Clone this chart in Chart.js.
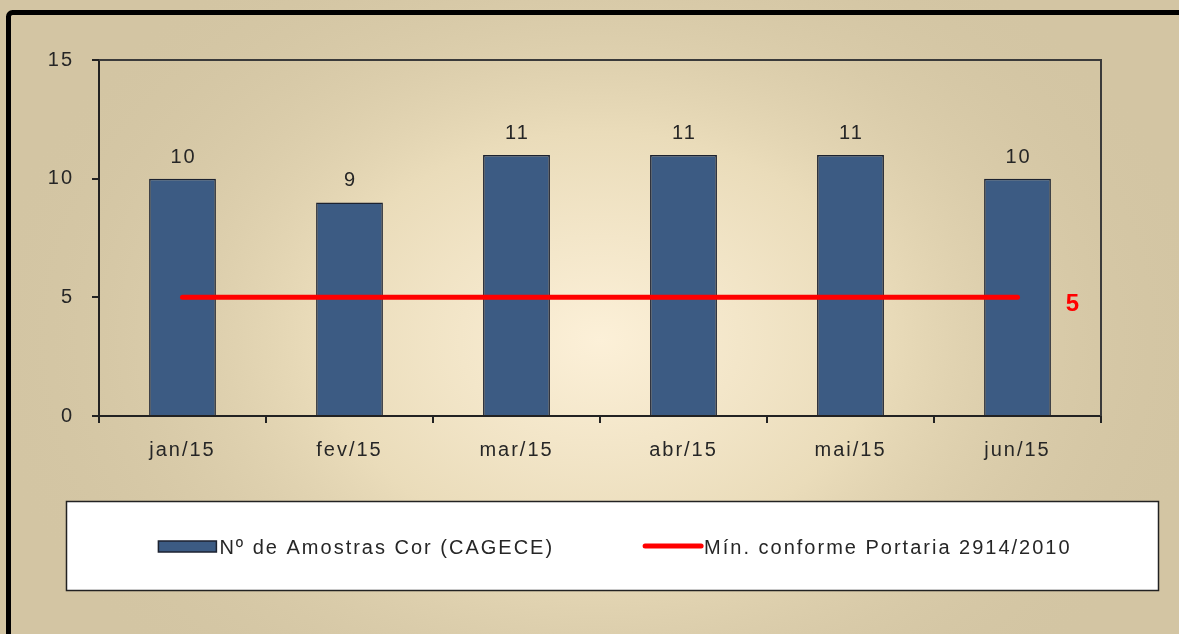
<!DOCTYPE html>
<html>
<head>
<meta charset="utf-8">
<script src="https://cdn.jsdelivr.net/npm/chart.js@4/dist/chart.umd.min.js"></script>
<style>
  html, body { margin: 0; padding: 0; background: #d3c5a3; }
  #wrap { width: 1179px; height: 634px; position: relative; }
</style>
</head>
<body>
<div id="wrap"><canvas id="chart" width="1179" height="634"></canvas></div>
<script>
const months = ['jan/15', 'fev/15', 'mar/15', 'abr/15', 'mai/15', 'jun/15'];
const amostras = [10, 9, 11, 11, 11, 10];
const minimo = [5, 5, 5, 5, 5, 5];
const yTicks = [0, 5, 10, 15];
const serieNames = ['Nº de Amostras Cor (CAGECE)', 'Mín. conforme Portaria 2914/2010'];

const BAR = '#3c5b83';
const RED = '#ff0000';
const TXT = '#262626';
const FONT = '"Liberation Sans", Arial, sans-serif';

// background, black frame, plot border, value labels and legend box
const decor = {
  id: 'decor',
  beforeDraw(chart) {
    const ctx = chart.ctx;
    ctx.letterSpacing = '2px';
    ctx.save();
    ctx.letterSpacing = '0px';
    ctx.fillStyle = '#d3c5a3';
    ctx.fillRect(0, 0, chart.width, chart.height);
    ctx.translate(600, 340);
    ctx.scale(1.35, 1);
    const g = ctx.createRadialGradient(0, 0, 0, 0, 0, 460);
    g.addColorStop(0, '#fcf0d8');
    g.addColorStop(0.45, '#eadcba');
    g.addColorStop(1, 'rgba(211,197,163,0)');
    ctx.fillStyle = g;
    ctx.fillRect(-600, -400, 1200, 800);
    ctx.restore();

    ctx.save();
    ctx.strokeStyle = '#000';
    ctx.lineWidth = 5;
    ctx.beginPath();
    ctx.moveTo(8.5, 640);
    ctx.lineTo(8.5, 17);
    ctx.arcTo(8.5, 12.5, 13, 12.5, 4);
    ctx.lineTo(1185, 12.5);
    ctx.stroke();
    ctx.restore();
  },
  afterDraw(chart) {
    const ctx = chart.ctx;
    const a = chart.chartArea;
    ctx.save();
    ctx.strokeStyle = '#3a3a3a';
    ctx.lineWidth = 2;
    ctx.beginPath();
    ctx.moveTo(a.left, a.top);
    ctx.lineTo(a.right, a.top);
    ctx.lineTo(a.right, a.bottom);
    ctx.stroke();

    // value labels
    ctx.font = '20px ' + FONT;
    ctx.fillStyle = TXT;
    ctx.textAlign = 'center';
    ctx.textBaseline = 'alphabetic';
    const bars = chart.getDatasetMeta(0).data;
    bars.forEach((b, i) => {
      ctx.fillText(String(amostras[i]), b.x + 1, b.y - 16);
    });
    const pts = chart.getDatasetMeta(1).data;
    const last = pts[pts.length - 1];
    ctx.font = 'bold 24px ' + FONT;
    ctx.fillStyle = RED;
    ctx.letterSpacing = '0px';
    ctx.fillText(String(minimo[minimo.length - 1]), last.x + 55, last.y + 14);

    // legend box
    const lx = 66, ly = 501, lw = 1092, lh = 89;
    ctx.fillStyle = '#fff';
    ctx.fillRect(lx, ly, lw, lh);
    ctx.strokeStyle = '#222';
    ctx.lineWidth = 1.5;
    ctx.strokeRect(lx + 0.5, ly + 0.5, lw, lh);

    ctx.letterSpacing = '2px';
    ctx.font = '20px ' + FONT;
    ctx.textAlign = 'left';
    ctx.textBaseline = 'middle';
    const cy = 547;
    const t1 = ctx.measureText(serieNames[0]).width;
    const t2 = ctx.measureText(serieNames[1]).width;
    const sw = 58, gap = 3, between = 89;
    const total = sw + gap + t1 + between + sw + gap + t2;
    let x = 615 - total / 2;
    ctx.fillStyle = BAR;
    ctx.fillRect(x, cy - 6, sw, 11);
    ctx.strokeStyle = '#1c2230';
    ctx.lineWidth = 1.5;
    ctx.strokeRect(x, cy - 6, sw, 11);
    x += sw + gap;
    ctx.fillStyle = TXT;
    ctx.fillText(serieNames[0], x, cy + 1);
    x += t1 + between;
    ctx.strokeStyle = RED;
    ctx.lineWidth = 5;
    ctx.lineCap = 'round';
    ctx.beginPath();
    ctx.moveTo(x + 2, cy - 1);
    ctx.lineTo(x + sw, cy - 1);
    ctx.stroke();
    x += sw + gap;
    ctx.fillStyle = TXT;
    ctx.fillText(serieNames[1], x, cy + 1);
    ctx.restore();
  }
};

new Chart(document.getElementById('chart'), {
  data: {
    labels: months,
    datasets: [{
      type: 'bar',
      label: serieNames[0],
      data: amostras,
      backgroundColor: BAR,
      borderColor: '#1c2230',
      borderWidth: 1.5,
      barPercentage: 0.4,
      categoryPercentage: 1,
      order: 2
    }, {
      type: 'line',
      label: serieNames[1],
      data: minimo,
      borderColor: RED,
      borderWidth: 5,
      borderCapStyle: 'round',
      pointRadius: 0,
      fill: false,
      order: 1
    }]
  },
  options: {
    responsive: false,
    animation: false,
    layout: { padding: { top: 60, right: 78, bottom: 158, left: 0 } },
    plugins: {
      legend: { display: false },
      tooltip: { enabled: false }
    },
    scales: {
      x: {
        afterFit(scale) { scale.height = 60; },
        grid: { offset: true, drawOnChartArea: false, color: '#222', lineWidth: 2, tickLength: 7 },
        border: { color: '#222', width: 2 },
        ticks: { color: TXT, font: { family: FONT, size: 20 }, padding: 15 }
      },
      y: {
        min: 0,
        max: 15,
        afterFit(scale) { scale.width = 99; },
        afterBuildTicks(scale) { scale.ticks = yTicks.map(v => ({ value: v })); },
        grid: { drawOnChartArea: false, color: '#222', lineWidth: 2, tickLength: 7 },
        border: { color: '#222', width: 2 },
        ticks: { color: TXT, font: { family: FONT, size: 20 }, padding: 18 }
      }
    }
  },
  plugins: [decor]
});
</script>
</body>
</html>
